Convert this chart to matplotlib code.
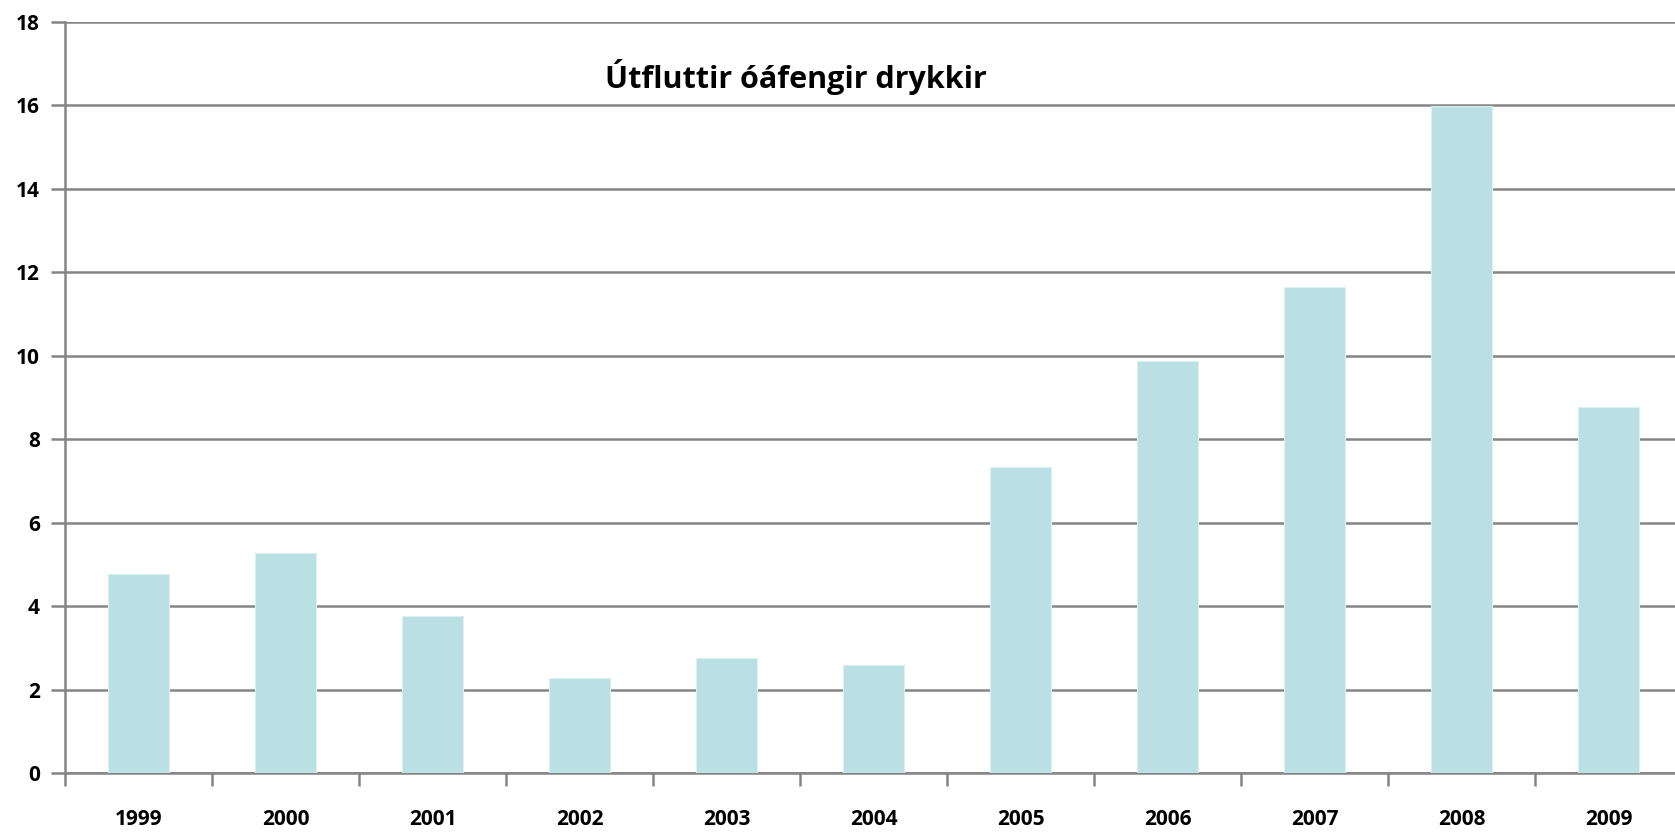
import numpy as np
import matplotlib.pyplot as plt

years = ["1999", "2000", "2001", "2002", "2003", "2004",
         "2005", "2006", "2007", "2008", "2009"]
values = [4.77, 5.28, 3.77, 2.27, 2.76, 2.58, 7.34, 9.88, 11.65, 15.98, 8.78]

title = "Útfluttir óáfengir drykkir"
grey = "#858585"

plt.rcParams['font.family'] = ['Open Sans', 'DejaVu Sans']

fig = plt.figure(figsize=(16.75, 8.32), dpi=100)
ax = fig.add_axes([0.0388, 0.0709, 0.9654, 0.9027])

x = np.arange(len(years))
ax.bar(x, values, width=0.41, color="#BBE0E3", edgecolor="#DDF0F1", linewidth=0.8, zorder=3)

ax.set_xlim(-0.5, len(years) - 0.5)
ax.set_ylim(0, 18)
ax.set_yticks(np.arange(0, 19, 2))
ax.yaxis.grid(True, color=grey, linewidth=1.8, zorder=1)
ax.set_axisbelow(True)

# category labels at centres, tick marks at boundaries
ax.set_xticks(x)
ax.set_xticklabels(years, fontsize=15, fontweight="bold")
ax.tick_params(axis="x", which="major", length=0, pad=26)
ax.set_xticks(np.arange(-0.5, len(years), 1.0), minor=True)
ax.tick_params(axis="x", which="minor", length=9, width=1.8, color=grey, direction="out")
ax.tick_params(axis="y", length=10, width=1.8, color=grey, labelsize=15, pad=8)
for lab in ax.get_yticklabels():
    lab.set_fontweight("bold")

for s in ["top", "right"]:
    ax.spines[s].set_visible(False)
for s in ["left", "bottom"]:
    ax.spines[s].set_color(grey)
    ax.spines[s].set_linewidth(1.8)

ax.text(0.452, 0.927, title, transform=ax.transAxes, ha="center", va="center",
        fontsize=22, fontweight="bold")

fig.savefig("out.png", dpi=100)
